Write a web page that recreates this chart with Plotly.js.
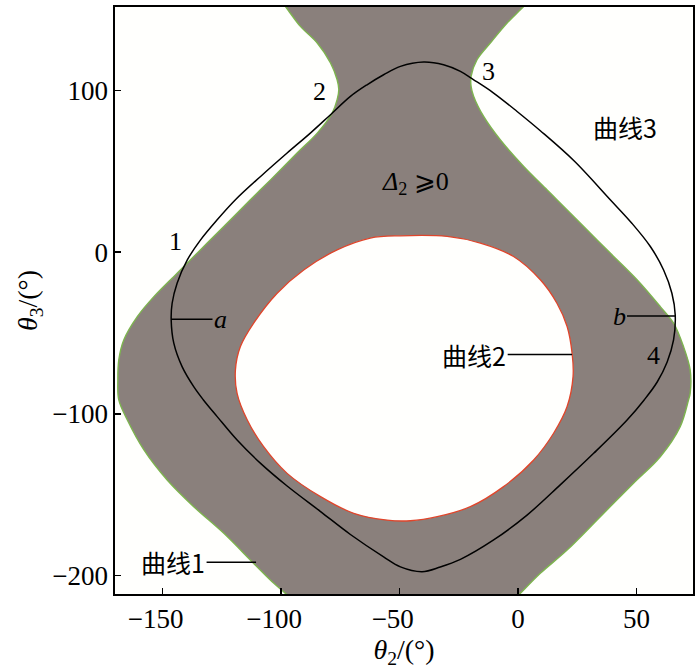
<!DOCTYPE html>
<html>
<head>
<meta charset="utf-8">
<script src="https://cdn.plot.ly/plotly-3.0.1.min.js"></script>
<style>html,body{margin:0;padding:0;background:#fff;}#chart{width:700px;height:669px;}</style>
</head>
<body>
<div id="chart"></div>
<script>
// Left boundary of the Δ2 ≥ 0 region (曲线1, left branch)
const boundLeftX = [-100.2, -97.1, -91.8, -84.7, -79.1, -76.3, -75.6, -76.3, -78.4, -84.7, -93.2, -104.4, -112.9, -124.1, -134.0, -143.8, -153.6, -160.6, -166.3, -168.4, -168.8, -168.4, -164.8, -157.8, -148.0, -136.8, -124.1, -111.5, -103.0, -98.1, -94.2];
const boundLeftY = [156, 149.9, 139.6, 129.3, 117.0, 106.6, 100.4, 94.3, 86.0, 73.6, 61.3, 44.7, 32.4, 15.8, 1.4, -13.0, -27.5, -39.9, -54.3, -66.6, -79.0, -91.4, -103.8, -122.3, -140.9, -157.4, -173.9, -192.5, -204.8, -211.0, -216];
// Right boundary of the region (曲线1, right branch)
const boundRightX = [5.2, 1.0, -4.6, -11.7, -17.3, -19.8, -19.8, -18.7, -14.5, -7.5, 2.4, 12.2, 16.4, 27.7, 38.9, 50.2, 60.0, 65.6, 69.8, 72.6, 72.6, 71.9, 68.4, 60.0, 48.7, 34.7, 20.7, 9.4, 1.0, -2.4];
const boundRightY = [156, 149.9, 141.7, 129.3, 119.0, 108.7, 102.5, 96.3, 83.9, 69.5, 53.0, 38.6, 32.4, 15.8, -0.6, -17.1, -33.7, -43.9, -58.4, -72.8, -87.3, -91.4, -107.9, -126.5, -142.9, -163.6, -184.2, -198.6, -211.0, -216];
// Inner hole (曲线2)
const holeX = [-49.6, -62.3, -76.3, -90.4, -101.6, -111.5, -117.1, -119.2, -118.5, -114.2, -107.3, -97.4, -83.3, -69.3, -55.2, -45.4, -34.1, -20.1, -6.1, 6.6, 15.0, 20.7, 23.2, 22.8, 20.7, 16.4, 9.4, -1.9, -15.9, -29.9, -49.6];
const holeY = [10.1, 8.7, 1.4, -11.0, -25.4, -43.9, -58.4, -72.8, -87.3, -103.8, -120.3, -136.8, -151.2, -161.5, -165.7, -166.1, -163.6, -157.4, -145.0, -128.5, -112.0, -95.5, -77.0, -62.5, -46.0, -31.6, -17.1, -2.7, 5.6, 9.7, 10.1];
// Closed curve (曲线3)
const loopX = [-39.8, -31.4, -24.3, -18.7, -10.3, -0.4, 9.4, 23.6, 38.9, 48.0, 55.8, 61.4, 64.9, 66.3, 65.6, 62.9, 58.7, 53.2, 46.0, 31.9, 17.8, 3.8, -10.3, -24.3, -32.8, -40.5, -49.6, -56.7, -70.7, -83.3, -97.4, -108.6, -118.5, -126.9, -132.7, -136.8, -141.7, -145.2, -146.3, -145.9, -143.8, -139.5, -133.9, -126.9, -119.2, -108.6, -97.4, -87.6, -79.1, -70.7, -63.7, -56.7, -49.6, -39.8];
const loopY = [117.6, 115.9, 111.8, 106.6, 98.4, 87.0, 75.1, 56.5, 32.4, 17.9, 3.5, -11.0, -25.4, -38.8, -54.3, -67.9, -80.3, -91.4, -103.8, -124.4, -143.9, -162.6, -178.0, -190.0, -194.7, -197.6, -194.6, -188.4, -174.6, -160.4, -144.6, -130.6, -116.2, -101.7, -91.4, -83.2, -70.8, -56.3, -41.9, -31.6, -19.2, -4.8, 7.6, 20.0, 32.4, 46.8, 61.3, 73.6, 85.0, 96.3, 103.5, 109.7, 114.9, 117.6];
// Ticks
const xTicks = [-150, -100, -50, 0, 50];
const xTickText = ['−150\u2002', '−100\u2002', '−50\u2002', '0', '50'];
const yTicks = [-200, -100, 0, 100];
const yTickText = ['−200', '−100', '0', '100'];

const GRAY = '#8a807c', GREEN = '#7db44f', RED = '#e0452b';
const SERIF = 'Liberation Serif, Times New Roman, serif';
const CJK = 'Noto Sans CJK SC, sans-serif';

const polyX = boundLeftX.concat(boundRightX.slice().reverse());
const polyY = boundLeftY.concat(boundRightY.slice().reverse());
const SM = 1.0;

const traces = [
  {x: polyX, y: polyY, mode: 'lines', fill: 'toself', fillcolor: GRAY,
   line: {color: 'rgba(0,0,0,0)', width: 0, shape: 'spline', smoothing: SM}, hoverinfo: 'skip'},
  {x: boundLeftX, y: boundLeftY, mode: 'lines', line: {color: GREEN, width: 1.4, shape: 'spline', smoothing: SM}},
  {x: boundRightX, y: boundRightY, mode: 'lines', line: {color: GREEN, width: 1.4, shape: 'spline', smoothing: SM}},
  {x: holeX, y: holeY, mode: 'lines', fill: 'toself', fillcolor: '#fffffd',
   line: {color: RED, width: 1.3, shape: 'spline', smoothing: SM}},
  {x: loopX, y: loopY, mode: 'lines', line: {color: '#000', width: 1.5, shape: 'spline', smoothing: SM}}
];

function label(text, x, y, font) {
  return {x: x, y: y, xref: 'x', yref: 'y', text: text, showarrow: false, font: font};
}
function leader(text, tipX, tipY, textX, textY, font) {
  return {x: tipX, y: tipY, xref: 'x', yref: 'y', ax: textX, ay: textY, axref: 'x', ayref: 'y',
          text: text, showarrow: true, arrowhead: 0, arrowwidth: 1.6, arrowcolor: '#000',
          standoff: 0, startstandoff: 0, font: font};
}
const fNum = {family: SERIF, size: 26, color: '#000'};
const fCjk = {family: CJK, size: 25, color: '#000'};

const annotations = [
  label('1', -144.6, 6.6, fNum),
  label('2', -83.6, 99.4, fNum),
  label('3', -12.4, 111.8, fNum),
  label('4', 57.2, -63.6, fNum),
  label('曲线3', 45.2, 77.7, fCjk),
  label('<i>Δ</i><sub>2</sub> ⩾0', -43.3, 43.0, {family: SERIF, size: 26, color: '#000'}),
  leader('<i>a</i>', -146.3, -41.5, -125.5, -41.5, fNum),
  leader('<i>b</i>', 66.3, -39.5, 42.6, -39.5, fNum),
  leader('曲线2', 22.8, -63.3, -18.5, -63.3, fCjk),
  leader('曲线1', -110.5, -191.8, -145.5, -191.8, fCjk)
];

const axisCommon = {
  showgrid: false, zeroline: false, showline: true, linecolor: '#000', linewidth: 1.6,
  mirror: true, ticks: 'inside', ticklen: 6, tickwidth: 1.4, tickcolor: '#000',
  tickfont: {family: SERIF, size: 27, color: '#000'}
};

const layout = {
  width: 700, height: 669,
  margin: {l: 115, r: 7, t: 7, b: 75},
  paper_bgcolor: '#fff', plot_bgcolor: '#fffffd',
  showlegend: false,
  xaxis: Object.assign({}, axisCommon, {
    range: [-170, 73.8], tickvals: xTicks, ticktext: xTickText,
    title: {text: '<i>θ</i><sub>2</sub>/(°)', font: {family: SERIF, size: 28, color: '#000'}, standoff: 4}
  }),
  yaxis: Object.assign({}, axisCommon, {
    range: [-211.4, 151.6], tickvals: yTicks, ticktext: yTickText,
    title: {text: '<i>θ</i><sub>3</sub>/(°)', font: {family: SERIF, size: 28, color: '#000'}, standoff: 6}
  }),
  annotations: annotations
};

Plotly.newPlot('chart', traces, layout, {staticPlot: true});
</script>
</body>
</html>
